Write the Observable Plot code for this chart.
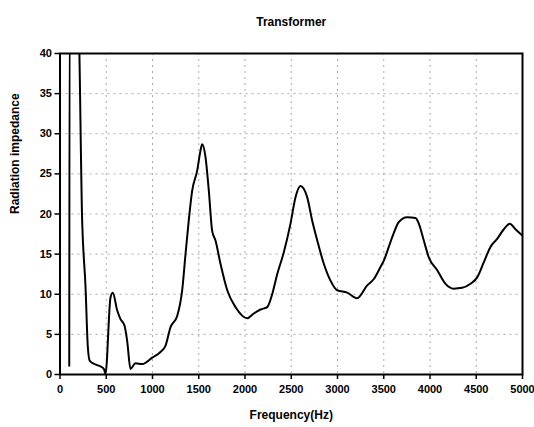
<!DOCTYPE html>
<html><head><meta charset="utf-8">
<script src="https://cdn.jsdelivr.net/npm/d3@7"></script>
<script src="https://cdn.jsdelivr.net/npm/@observablehq/plot@0.6"></script>
<style>body{margin:0;background:#fff} svg{display:block}</style>
</head><body><div id="chart"></div>
<script>
const title = "Transformer";
const xLabel = "Frequency(Hz)";
const yLabel = "Radiation impedance";
const xTicks = [0,500,1000,1500,2000,2500,3000,3500,4000,4500,5000];
const yTicks = [0,5,10,15,20,25,30,35,40];
const freq = [100,104,196,240,276,301,322,384,438,474,492,546,571,618,654,697,726,762,816,888,997,1086,1141,1195,1267,1321,1357,1392,1429,1483,1519,1537,1573,1609,1645,1681,1735,1808,1897,2024,2095,2168,2240,2294,2348,2419,2492,2546,2600,2672,2726,2781,2852,2924,2997,3105,3213,3321,3393,3465,3501,3591,3663,3753,3843,3879,3933,3987,4078,4168,4257,4348,4438,4510,4582,4654,4726,4798,4863,4924,5000];
const imp = [1.1,45,45,19,10.9,3.4,1.7,1.25,1.0,0.7,0.1,9.6,10.2,8.0,6.9,6.1,4.2,0.7,1.4,1.3,2.1,2.8,3.6,5.9,7.3,10.5,15,19.2,22.9,25.4,27.9,28.7,27.1,22.9,17.9,16.7,13.8,10.5,8.4,7.0,7.6,8.1,8.4,10.0,12.5,15.2,18.8,22.1,23.5,22.1,19.2,16.7,13.8,11.7,10.5,10.2,9.5,11.1,11.9,13.4,14.2,17.1,19.0,19.6,19.5,18.8,16.7,14.6,13.0,11.3,10.7,10.8,11.3,12.1,14.0,15.9,16.9,18.1,18.8,18.1,17.3];
const data = freq.map((f,i)=>({f, v: imp[i]}));
const font = "'Liberation Sans', Arial, sans-serif";
const chart = Plot.plot({
  width: 534, height: 427,
  marginLeft: 59.5, marginRight: 12, marginTop: 53, marginBottom: 53,
  style: {fontFamily: font, fontSize: "11px", fontWeight: "bold", color: "black", background: "white"},
  x: {domain: [0,5000], ticks: xTicks, label: null, tickSize: 5},
  y: {domain: [0,40], ticks: yTicks, label: null, tickSize: 5},
  marks: [
    Plot.gridX(xTicks, {stroke: "#888", strokeOpacity: 0.7, strokeDasharray: "2,4"}),
    Plot.gridY(yTicks, {stroke: "#888", strokeOpacity: 0.7, strokeDasharray: "2,4"}),
    Plot.line(data, {x: "f", y: "v", stroke: "black", strokeWidth: 2, curve: "monotone-x", clip: true}),
    Plot.frame({stroke: "black", strokeWidth: 2}),
    Plot.axisX({ticks: xTicks, tickSize: 5, strokeWidth: 1.5, label: null, fontWeight: "bold", tickPadding: 6, tickFormat: "d"}),
    Plot.axisY({ticks: yTicks, tickSize: 5, strokeWidth: 1.5, label: null, fontWeight: "bold", tickPadding: 3, tickFormat: "d"}),
    Plot.text([title], {frameAnchor: "top", dy: -36, fontSize: 12, fontWeight: "bold"}),
    Plot.text([xLabel], {frameAnchor: "bottom", dy: 44, fontSize: 12, fontWeight: "bold"}),
    Plot.text([yLabel], {frameAnchor: "left", dx: -45, rotate: -90, fontSize: 12, fontWeight: "bold"})
  ]
});
document.getElementById("chart").appendChild(chart);
</script></body></html>
